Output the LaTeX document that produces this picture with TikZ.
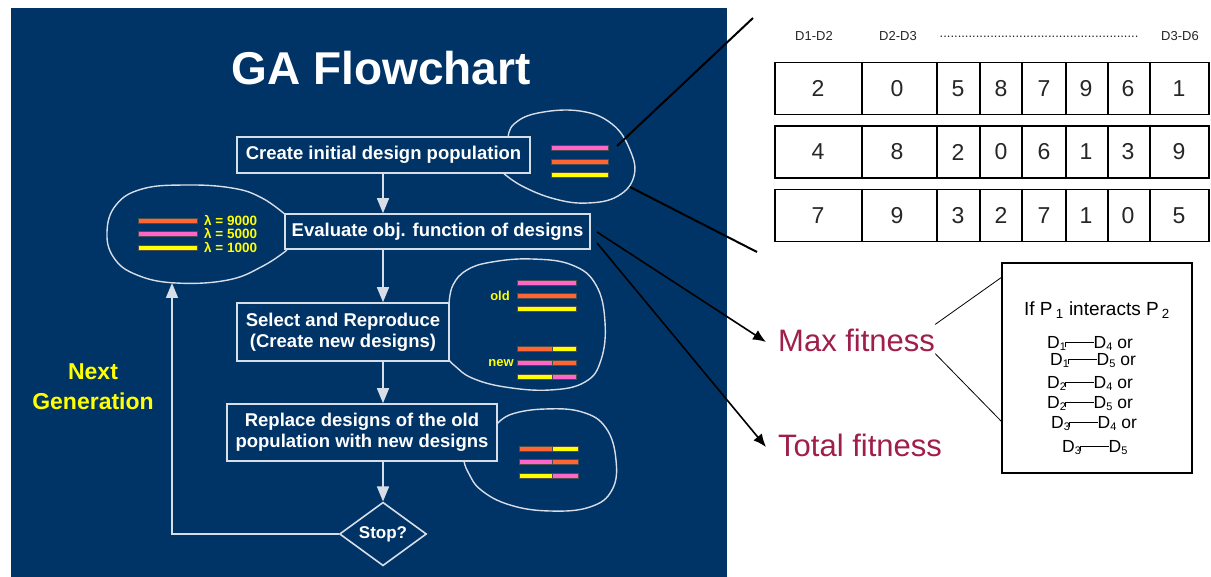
\documentclass[tikz,border=0pt]{standalone}
\usepackage{fontspec}
\setmainfont{Liberation Sans}
\usetikzlibrary{arrows.meta,shapes.geometric}
\definecolor{navy}{RGB}{0,51,102}
\definecolor{boxline}{RGB}{215,222,232}
\definecolor{barorange}{RGB}{255,102,51}
\definecolor{barpink}{RGB}{255,102,204}
\definecolor{baryellow}{RGB}{255,255,0}
\definecolor{fitred}{RGB}{160,30,75}

% a coloured gene bar: x1, x2, y, colour
\newcommand\gbar[4]{\fill[#4, draw=black!70, line width=0.5pt] (#1,#3-2.5) rectangle (#2,#3+2.5);}
% shallow subscript index
\newcommand\dsub[1]{\raisebox{-2.3pt}{\fontsize{11}{11}\selectfont #1}}
% linked pair of design variables: D_a --- D_b
\newcommand\dlink[2]{D\dsub{#1}\kern-0.05em\rule[0.05em]{0.6pt}{0.32em}\rule[0.35em]{1.6em}{0.6pt}D\dsub{#2}}
% fixed line spacing, lines may touch
\newcommand\tightlines{\lineskiplimit -20pt\relax\lineskip 0pt\relax}

\begin{document}
\begin{tikzpicture}[x=1pt,y=-1pt,
  flowbox/.style={draw=boxline, line width=1.6pt, fill=navy, text=white,
    font=\fontsize{18.5}{21}\selectfont\bfseries, align=center, inner sep=0pt},
  blob/.style={draw=boxline, line width=1.4pt},
  warrow/.style={draw=boxline, line width=1.6pt, -{Triangle[length=15pt,width=12pt]}},
  barrow/.style={draw=black, line width=1.6pt, -{Latex[length=13pt,width=11pt]}},
  lambda/.style={text=baryellow, font=\fontsize{13.5}{14}\selectfont\bfseries, anchor=west, inner sep=0pt},
  gridrow/.style={draw=black, line width=1.4pt, minimum width=434pt, minimum height=52pt, inner sep=0pt},
  digit/.style={font=\fontsize{23}{25}\selectfont, text=black!85},
  hdr/.style={font=\fontsize{13}{14}\selectfont, text=black!85},
  fit/.style={font=\fontsize{31}{34}\selectfont, text=fitred, anchor=west, inner sep=0pt}
]
\useasboundingbox (0,0) rectangle (1211,577);
\fill[white] (0,0) rectangle (1211,577);
\fill[navy] (11,8) rectangle (727,577);

\node (title) [text=white, font=\fontsize{46}{50}\selectfont\bfseries] at (381,68) {GA Flowchart};

% outlined groups of candidate designs
\draw[blob] plot[smooth, tension=0.7] coordinates {(287,216) (262,198) (232,188) (185,185) (142,189) (116,205) (107,232) (114,258) (137,275) (176,283) (228,280) (263,266) (287,250)};
\draw[blob] plot[smooth, tension=0.7] coordinates {(508,138) (514,124) (538,113) (580,111) (612,124) (630,150) (634,176) (618,196) (588,203) (555,199) (522,186) (502,172)};
\draw[blob] plot[smooth, tension=0.7] coordinates {(449,304) (453,285) (467,270) (492,262) (532,259) (572,265) (596,285) (605,322) (601,360) (585,382) (550,390) (505,387) (472,378) (455,366) (449,360)};
\draw[blob] plot[smooth, tension=0.7] coordinates {(497,424) (512,414) (545,409) (582,412) (606,428) (616,460) (612,490) (590,507) (550,511) (510,505) (481,490) (468,472) (464,461)};

% flowchart steps
\node (b1) [flowbox, minimum width=293pt, minimum height=36pt] at (383.5,155) {Create initial design population};
\node (b2) [flowbox, minimum width=305pt, minimum height=35pt] at (437.5,231.5) {Evaluate obj. function of designs};
\node (b3) [flowbox, minimum width=212pt, minimum height=58pt] at (343,332) {Select and Reproduce\\(Create new designs)};
\node (b4) [flowbox, minimum width=270pt, minimum height=57pt] at (362,432.5) {Replace designs of the old\\population with new designs};
\node (stop) [flowbox, diamond, minimum width=87pt, minimum height=56pt, font=\fontsize{17}{20}\selectfont\bfseries] at (383,534) {Stop?};

\draw[warrow] (b1.south -| stop.north) -- (b2.north -| stop.north);
\draw[warrow] (b2.south -| stop.north) -- (b3.north -| stop.north);
\draw[warrow] (b3.south -| stop.north) -- (b4.north -| stop.north);
\draw[warrow] (b4.south -| stop.north) -- (stop.north);
\coordinate (loopend) at (172,283);
\draw[warrow] (stop.west) -| (loopend);

\node (nextgen) [text=baryellow, font=\fontsize{23}{30}\selectfont\bfseries, align=center] at (93,387) {Next\\Generation};

% bars: initial population
\gbar{551}{608}{148}{barpink}
\gbar{551}{608}{162}{barorange}
\gbar{551}{608}{175}{baryellow}

% bars: evaluated designs with objective values
\gbar{138}{197}{221}{barorange}
\gbar{138}{197}{234}{barpink}
\gbar{138}{197}{248}{baryellow}
\node (l1) [lambda] at (204,221) {λ = 9000};
\node (l2) [lambda] at (204,234) {λ = 5000};
\node (l3) [lambda] at (204,248) {λ = 1000};

% bars: old and new designs
\gbar{517}{576}{283}{barpink}
\gbar{517}{576}{296}{barorange}
\gbar{517}{576}{309}{baryellow}
\node (old) [text=baryellow, font=\fontsize{13}{14}\selectfont\bfseries] at (500,296) {old};
\gbar{517}{552}{349}{barorange}\gbar{552}{576}{349}{baryellow}
\gbar{517}{552}{363}{barpink}\gbar{552}{576}{363}{barorange}
\gbar{517}{552}{377}{baryellow}\gbar{552}{576}{377}{barpink}
\node (new) [text=baryellow, font=\fontsize{13}{14}\selectfont\bfseries] at (501,363) {new};

% bars: replaced population
\gbar{519}{552}{449}{barorange}\gbar{552}{578}{449}{baryellow}
\gbar{519}{552}{462}{barpink}\gbar{552}{578}{462}{barorange}
\gbar{519}{552}{476}{baryellow}\gbar{552}{578}{476}{barpink}

% chromosome encoding grid
\node (h1) [hdr] at (814,36) {D1-D2};
\node (h2) [hdr] at (898,36) {D2-D3};
\node (h3) [hdr] at (1039,37) {.......................................................};
\node (h4) [hdr] at (1180,36) {D3-D6};
\node (r1) [gridrow] at (992,88.5) {};
\node (r2) [gridrow] at (992,152) {};
\node (r3) [gridrow] at (992,215.5) {};
\foreach \x in {862,937,980,1022,1066,1108,1150} {
  \draw[line width=1.4pt] (\x,0 |- r1.north) -- (\x,0 |- r1.south);
  \draw[line width=1.4pt] (\x,0 |- r2.north) -- (\x,0 |- r2.south);
  \draw[line width=1.4pt] (\x,0 |- r3.north) -- (\x,0 |- r3.south);
}
\foreach \x/\a/\b/\c in {818/2/4/7, 897/0/8/9, 958/5/2/3, 1001/8/0/2, 1044/7/6/7, 1086/9/1/1, 1128/6/3/0, 1179/1/9/5} {
  \node[digit] at (\x,88.5) {\a};
  \node[digit] at (\x,152) {\b};
  \node[digit] at (\x,215.5) {\c};
}
\coordinate (zt1) at (617,146);
\coordinate (zt2) at (753,18);
\coordinate (zb1) at (630,187);
\coordinate (zb2) at (757,252);
\draw[line width=2pt] (zt1) -- (zt2);
\draw[line width=2pt] (zb1) -- (zb2);

% fitness measures
\node (maxf) [fit] at (778,340) {Max fitness};
\node (totf) [fit] at (778,445) {Total fitness};
\coordinate (ev1) at (597,232);
\coordinate (ev2) at (597,243);
\draw[barrow] (ev1) -- ([xshift=-12pt,yshift=-2pt]maxf.west);
\draw[barrow] (ev2) -- ([xshift=-12pt,yshift=-2pt]totf.west);

% interaction box
\node (pbox) [draw=black, line width=1.5pt, minimum width=190pt, minimum height=210pt, inner sep=0pt] at (1097,368) {};
\coordinate (pb1) at (1002,277);
\coordinate (pb2) at (1002,422);
\draw[line width=0.8pt] ([yshift=4pt]maxf.north east) -- (pb1);
\draw[line width=0.8pt] ([yshift=-2pt]maxf.south east) -- (pb2);
\node (ifp) [font=\fontsize{19}{21}\selectfont] at (1097,310) {If P\,\textsubscript{1} interacts P\,\textsubscript{2}};
\node (pairs) [font=\fontsize{17.5}{17}\selectfont\tightlines, align=left, anchor=north west, inner sep=0pt] at (1047,336)
  {\dlink{1}{4} or\\
   \hspace*{3pt}\dlink{1}{5} or\\[6pt]
   \dlink{2}{4} or\\[3pt]
   \dlink{2}{5} or\\[3pt]
   \hspace*{4pt}\dlink{3}{4} or\\[7pt]
   \hspace*{15pt}\dlink{3}{5}};
\end{tikzpicture}
\end{document}
